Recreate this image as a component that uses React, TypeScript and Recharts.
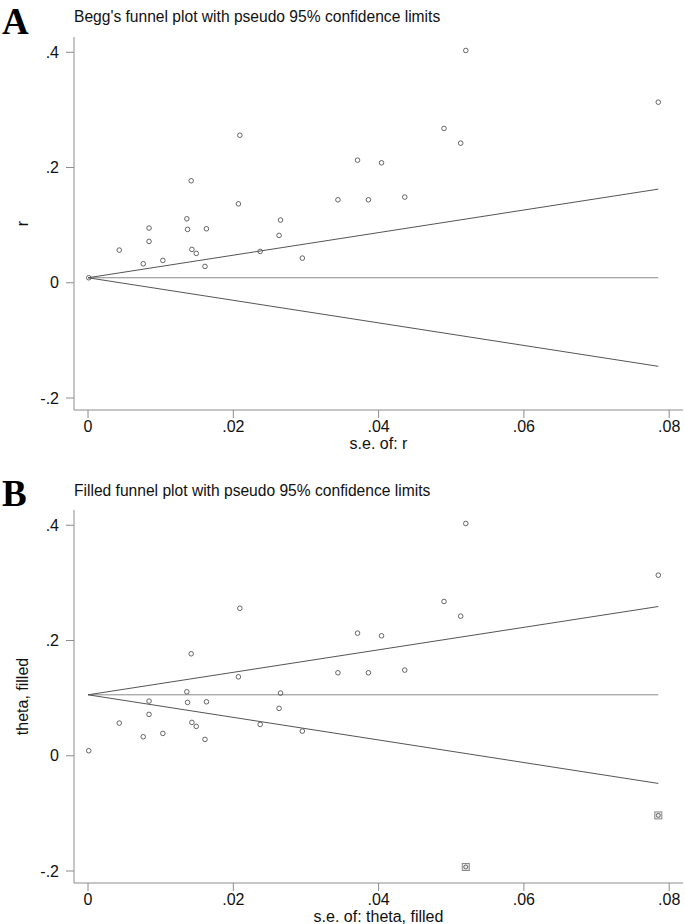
import React from "react";
import { ScatterChart, Scatter, XAxis, YAxis, ReferenceLine, Label } from "recharts";

// observed studies (standard error, effect size r)
const studySe = [
  0.0001, 0.0043, 0.0076, 0.0084, 0.0084, 0.0103, 0.0136, 0.0137, 0.0142, 0.0143,
  0.0149, 0.0161, 0.0163, 0.0207, 0.0209, 0.0237, 0.0263, 0.0265, 0.0295, 0.0344,
  0.0371, 0.0386, 0.0404, 0.0436, 0.049, 0.0513, 0.052, 0.0785,
];
const studyR = [
  0.0087, 0.0567, 0.033, 0.0949, 0.0718, 0.0388, 0.111, 0.0926, 0.177, 0.0579,
  0.051, 0.0284, 0.0937, 0.137, 0.256, 0.0544, 0.0822, 0.1088, 0.0428, 0.144,
  0.2128, 0.144, 0.2082, 0.1487, 0.2678, 0.2423, 0.4031, 0.3134,
];

// imputed (filled) studies in panel B
const filledSe = [0.052, 0.0785];
const filledTheta = [-0.193, -0.1035];

// pseudo 95% limits: [se at apex, se at end]
const limitSe = [0, 0.0785];
const pooledA = 0.0087;
const upperA = [0.0087, 0.1625];
const lowerA = [0.0087, -0.145];
const pooledB = 0.1058;
const upperB = [0.1058, 0.259];
const lowerB = [0.1058, -0.048];

const xTicks = [0, 0.02, 0.04, 0.06, 0.08];
const yTicks = [-0.2, 0, 0.2, 0.4];

const studies = studySe.map((se, i) => ({ se, y: studyR[i] }));
const filled = filledSe.map((se, i) => ({ se, y: filledTheta[i] }));

const FONT = "'Liberation Sans', Arial, sans-serif";
const fmt = (v: number) => (v === 0 ? "0" : String(v).replace("0.", "."));
const tickStyle = { fontSize: 16, fill: "#111", fontFamily: FONT };
const axisColor = "#8c8c8c";

const Circle = (p: any) => (
  <circle cx={p.cx} cy={p.cy} r={2.3} fill="none" stroke="#555" strokeWidth={0.9} />
);
const FilledMark = (p: any) => (
  <g>
    <rect x={p.cx - 3.5} y={p.cy - 3.5} width={7} height={7} fill="#eee" stroke="#888" strokeWidth={1} />
    <circle cx={p.cx} cy={p.cy} r={2} fill="none" stroke="#555" strokeWidth={0.9} />
  </g>
);

function Funnel(props: {
  pooled: number;
  upper: number[];
  lower: number[];
  yLabel: string;
  xLabel: string;
  showFilled: boolean;
}) {
  const { pooled, upper, lower, yLabel, xLabel, showFilled } = props;
  return (
    <ScatterChart width={685} height={460} margin={{ top: 37, right: 2, bottom: 0, left: 14 }}>
      <XAxis
        type="number"
        dataKey="se"
        domain={[-0.00193, 0.0819]}
        ticks={xTicks}
        tickFormatter={fmt}
        height={50}
        tickSize={8}
        tickMargin={3}
        stroke={axisColor}
        tick={tickStyle}
        allowDataOverflow
      >
        <Label value={xLabel} position="insideBottom" offset={11} style={{ fontSize: 16, fill: "#111", fontFamily: FONT }} />
      </XAxis>
      <YAxis
        type="number"
        dataKey="y"
        domain={[-0.2208, 0.4265]}
        ticks={yTicks}
        tickFormatter={fmt}
        width={60}
        tickSize={8}
        tickMargin={7}
        stroke={axisColor}
        tick={tickStyle}
        allowDataOverflow
      >
        <Label
          value={yLabel}
          angle={-90}
          position="insideLeft"
          offset={8}
          style={{ fontSize: 16, fill: "#111", fontFamily: FONT, textAnchor: "middle" }}
        />
      </YAxis>
      <ReferenceLine
        segment={[{ x: limitSe[0], y: pooled }, { x: limitSe[1], y: pooled }]}
        stroke="#8a8a8a"
        strokeWidth={1}
        ifOverflow="visible"
      />
      <ReferenceLine
        segment={[{ x: limitSe[0], y: upper[0] }, { x: limitSe[1], y: upper[1] }]}
        stroke="#555"
        strokeWidth={1}
        ifOverflow="visible"
      />
      <ReferenceLine
        segment={[{ x: limitSe[0], y: lower[0] }, { x: limitSe[1], y: lower[1] }]}
        stroke="#555"
        strokeWidth={1}
        ifOverflow="visible"
      />
      <Scatter data={studies} shape={Circle} isAnimationActive={false} />
      {showFilled && <Scatter data={filled} shape={FilledMark} isAnimationActive={false} />}
    </ScatterChart>
  );
}

const panelLetter: React.CSSProperties = {
  position: "absolute",
  left: 2,
  fontFamily: "'Liberation Serif', 'Times New Roman', serif",
  fontWeight: "bold",
  fontSize: 37,
  lineHeight: "normal",
  color: "#000",
};
const titleStyle: React.CSSProperties = {
  position: "absolute",
  left: 74,
  fontFamily: FONT,
  fontSize: 15.6,
  lineHeight: "16px",
  color: "#111",
  whiteSpace: "nowrap",
};

export default function App() {
  return (
    <div style={{ position: "absolute", left: 0, top: 0, width: 685, height: 924, background: "#fff" }}>
      <div style={{ position: "absolute", left: 0, top: 0 }}>
        <Funnel pooled={pooledA} upper={upperA} lower={lowerA} yLabel="r" xLabel="s.e. of: r" showFilled={false} />
      </div>
      <div style={{ position: "absolute", left: 0, top: 473 }}>
        <Funnel
          pooled={pooledB}
          upper={upperB}
          lower={lowerB}
          yLabel="theta, filled"
          xLabel="s.e. of: theta, filled"
          showFilled
        />
      </div>
      <div style={{ ...panelLetter, top: 0 }}>A</div>
      <div style={{ ...titleStyle, top: 8.6 }}>Begg's funnel plot with pseudo 95% confidence limits</div>
      <div style={{ ...panelLetter, top: 472 }}>B</div>
      <div style={{ ...titleStyle, top: 482.6 }}>Filled funnel plot with pseudo 95% confidence limits</div>
    </div>
  );
}
